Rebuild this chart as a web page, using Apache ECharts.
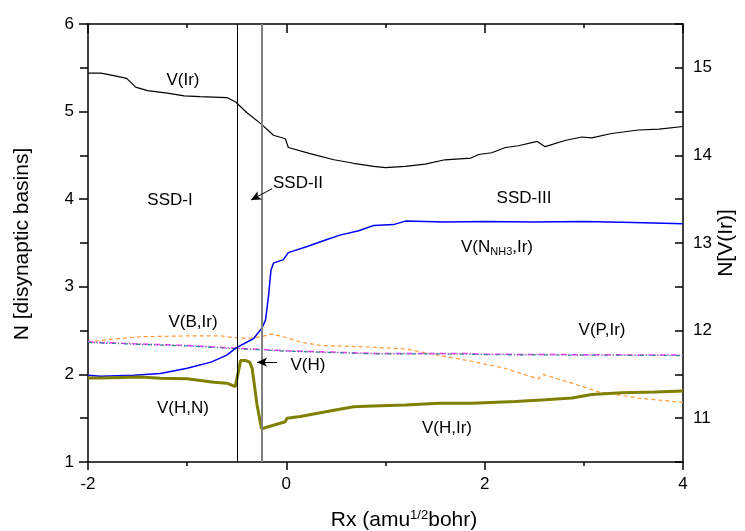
<!DOCTYPE html>
<html lang="en">
<head>
    <meta charset="UTF-8">
    <title>SSD basins</title>
    <script src="https://cdn.jsdelivr.net/npm/echarts@6/dist/echarts.min.js"></script>
</head>
<body style="margin:0">
<div id="main" style="width: 745px;height: 531px;"></div>

<script type="text/javascript">
    // 数据
    var irX = [-2, -1.87, -1.74, -1.61, -1.52, -1.40, -1.20, -1.03, -0.87, -0.60, -0.51, -0.40, -0.255, -0.13, -0.01, 0.02, 0.24, 0.48, 0.68, 0.88, 1.00, 1.20, 1.40, 1.60, 1.86, 1.94, 2.07, 2.21, 2.34, 2.53, 2.61, 2.81, 2.98, 3.08, 3.28, 3.55, 3.76, 4.0];
    var irY = [14.94, 14.94, 14.91, 14.88, 14.78, 14.74, 14.71, 14.68, 14.67, 14.66, 14.61, 14.49, 14.36, 14.23, 14.19, 14.09, 14.02, 13.95, 13.91, 13.875, 13.86, 13.875, 13.90, 13.95, 13.97, 14.01, 14.03, 14.09, 14.11, 14.16, 14.10, 14.17, 14.21, 14.20, 14.25, 14.29, 14.30, 14.33];

    var nhX = [-2, -1.87, -1.54, -1.27, -1.0, -0.76, -0.60, -0.51, -0.33, -0.245, -0.21, -0.18, -0.155, -0.13, -0.03, -0.005, 0.02, 0.21, 0.41, 0.54, 0.73, 0.88, 1.08, 1.20, 1.60, 2.0, 2.5, 3.0, 3.5, 4.0];
    var nhY = [1.99, 1.98, 1.99, 2.01, 2.07, 2.14, 2.22, 2.30, 2.41, 2.53, 2.62, 2.89, 3.19, 3.27, 3.31, 3.35, 3.39, 3.46, 3.54, 3.59, 3.64, 3.70, 3.71, 3.75, 3.74, 3.745, 3.74, 3.745, 3.735, 3.72];

    var bX = [-2, -1.77, -1.47, -0.96, -0.66, -0.53, -0.40, -0.26, -0.145, -0.03, 0.14, 0.34, 0.64, 0.87, 1.20, 1.53, 1.87, 2.20, 2.54, 2.59, 2.88, 3.15, 3.55, 4.0];
    var bY = [2.37, 2.40, 2.43, 2.44, 2.44, 2.42, 2.41, 2.43, 2.46, 2.43, 2.37, 2.33, 2.32, 2.31, 2.29, 2.22, 2.15, 2.07, 1.95, 2.00, 1.90, 1.80, 1.73, 1.68];

    var p1X = [-2, -1.54, -1.0, -0.53, 0.0, 0.87, 1.5, 1.82, 2.0, 3.0, 4.0];
    var p1Y = [2.37, 2.35, 2.33, 2.30, 2.27, 2.24, 2.24, 2.24, 2.23, 2.225, 2.22];
    var p2Y = [2.365, 2.345, 2.325, 2.295, 2.265, 2.235, 2.235, 2.23, 2.225, 2.22, 2.215];

    var hX = [-2, -1.87, -1.47, -1.27, -1.0, -0.73, -0.60, -0.515, -0.46, -0.415, -0.37, -0.345, -0.295, -0.25, -0.13, -0.01, 0.007, 0.14, 0.48, 0.68, 0.87, 1.20, 1.54, 1.87, 2.31, 2.61, 2.88, 3.08, 3.38, 3.72, 4.0];
    var hY = [1.96, 1.96, 1.97, 1.955, 1.95, 1.91, 1.90, 1.86, 2.16, 2.16, 2.14, 2.07, 1.65, 1.38, 1.42, 1.46, 1.50, 1.52, 1.59, 1.63, 1.64, 1.65, 1.67, 1.67, 1.69, 1.71, 1.73, 1.77, 1.79, 1.80, 1.81];

    var xTicks = [-2, 0, 2, 4];
    var leftTicks = [1, 2, 3, 4, 5, 6];
    var rightTicks = [11, 12, 13, 14, 15];
    var ssdBounds = [-0.5, -0.25];

    function pairs(xs, ys) {
        var list = [];
        for (var i = 0; i < xs.length; i++) {
            list.push([xs[i], ys[i]]);
        }
        return list;
    }

    var font = 'Liberation Sans, Arial, sans-serif';
    var black = {color: '#000', width: 1.5};
    var myChart = echarts.init(document.getElementById('main'));

    // 文字标注
    function note(text, x, y) {
        return {type: 'text', x: x, y: y, style: {text: text, fill: '#000', font: '17px ' + font, align: 'center', verticalAlign: 'middle'}};
    }

    var option = {
        animation: false,
        grid: {left: 88, right: 62, top: 24, bottom: 69},
        xAxis: [{
            type: 'value', min: -2, max: 4, interval: 2,
            axisLine: {onZero: false, lineStyle: black},
            axisTick: {length: 8, lineStyle: black},
            minorTick: {show: true, splitNumber: 2, length: 4, lineStyle: black},
            axisLabel: {color: '#000', fontSize: 17, fontFamily: font, margin: 14,
                formatter: function (v) { return xTicks.indexOf(v) >= 0 ? String(v) : ''; }},
            splitLine: {show: false}
        }, {
            type: 'value', min: -2, max: 4, interval: 2, position: 'top',
            axisLine: {onZero: false, lineStyle: black},
            axisTick: {inside: true, length: 9, lineStyle: black},
            minorTick: {show: true, splitNumber: 2, length: 4, lineStyle: black},
            axisLabel: {show: false},
            splitLine: {show: false}
        }],
        yAxis: [{
            type: 'value', min: 1, max: 6, interval: 1,
            axisLine: {show: true, onZero: false, lineStyle: black},
            axisTick: {show: true, length: 9, lineStyle: black},
            minorTick: {show: true, splitNumber: 2, length: 8, lineStyle: black},
            axisLabel: {color: '#000', fontSize: 17, fontFamily: font, margin: 14,
                formatter: function (v) { return leftTicks.indexOf(v) >= 0 ? String(v) : ''; }},
            splitLine: {show: false}
        }, {
            type: 'value', min: 10.5, max: 15.5, interval: 0.5, position: 'right',
            axisLine: {show: true, onZero: false, lineStyle: black},
            axisTick: {show: true, inside: true, length: 8, lineStyle: black},
            axisLabel: {color: '#000', fontSize: 17, fontFamily: font, margin: 10,
                formatter: function (v) { return rightTicks.indexOf(v) >= 0 ? String(v) : ''; }},
            splitLine: {show: false}
        }],
        graphic: [
            {type: 'text', x: 22, y: 244, rotation: Math.PI / 2, style: {text: 'N [disynaptic basins]', fill: '#000', font: '21px ' + font, align: 'center', verticalAlign: 'middle'}},
            {type: 'text', x: 726, y: 243, rotation: Math.PI / 2, style: {text: 'N[V(Ir)]', fill: '#000', font: '21px ' + font, align: 'center', verticalAlign: 'middle'}},
            {type: 'text', x: 404, y: 520, style: {
                text: '{n|Rx (amu}{s|1/2}{n|bohr)}', align: 'center', verticalAlign: 'middle',
                rich: {n: {fontSize: 21, fontFamily: font, fill: '#000'}, s: {fontSize: 13, fontFamily: font, fill: '#000', padding: [0, 0, 10, 0]}}
            }},
            note('V(Ir)', 183, 80),
            note('SSD-I', 170, 200),
            note('SSD-II', 298, 183),
            note('SSD-III', 524, 198),
            {type: 'text', x: 497, y: 247, style: {
                text: '{n|V(N}{s|NH3}{n|,Ir)}', align: 'center', verticalAlign: 'middle',
                rich: {n: {fontSize: 17, fontFamily: font, fill: '#000'}, s: {fontSize: 11, fontFamily: font, fill: '#000', padding: [10, 0, 0, 0]}}
            }},
            note('V(B,Ir)', 193, 322),
            note('V(P,Ir)', 602, 330),
            note('V(H)', 308, 365),
            note('V(H,N)', 183, 408),
            note('V(H,Ir)', 447, 428)
        ],
        series: [
            { // V(B,Ir) 橙色虚线
                name: 'V(B,Ir)', type: 'line', data: pairs(bX, bY), symbol: 'none',
                lineStyle: {color: '#ff9933', width: 1.2, type: [4, 3]}
            },
            { // V(P,Ir) 两条重叠的点划线
                name: 'V(P,Ir)a', type: 'line', data: pairs(p1X, p1Y), symbol: 'none',
                lineStyle: {color: '#ff33ff', width: 1.5, type: [6, 2, 1, 2]}
            },
            {
                name: 'V(P,Ir)b', type: 'line', data: pairs(p1X, p2Y), symbol: 'none',
                lineStyle: {color: '#2a8a8a', width: 1.2, type: [4, 2, 1, 2, 1, 2]}
            },
            { // V(N_NH3,Ir)
                name: 'V(N,Ir)', type: 'line', data: pairs(nhX, nhY), symbol: 'none',
                lineStyle: {color: '#0000ff', width: 1.5}
            },
            { // V(H,N) / V(H) / V(H,Ir)
                name: 'V(H)', type: 'line', data: pairs(hX, hY), symbol: 'none',
                lineStyle: {color: '#808000', width: 3}
            },
            { // V(Ir) 右轴
                name: 'V(Ir)', type: 'line', yAxisIndex: 1, data: pairs(irX, irY), symbol: 'none',
                lineStyle: {color: '#000', width: 1.2}
            },
            { // 分区竖线与箭头
                name: 'marks', type: 'line', data: [],
                markLine: {
                    silent: true, symbol: ['none', 'none'], label: {show: false},
                    data: [
                        {xAxis: ssdBounds[0], lineStyle: {color: '#000', width: 1, type: 'solid'}},
                        {xAxis: ssdBounds[1], lineStyle: {color: '#808080', width: 2, type: 'solid'}},
                        [{coord: [-0.144, 4.12], symbol: 'none'}, {coord: [-0.356, 3.99], symbol: 'arrow', symbolSize: [7, 10], lineStyle: {color: '#000', width: 1, type: 'solid'}}],
                        [{coord: [-0.094, 2.14], symbol: 'none'}, {coord: [-0.295, 2.14], symbol: 'arrow', symbolSize: [7, 10], lineStyle: {color: '#000', width: 1, type: 'solid'}}]
                    ]
                }
            }
        ]
    };

    myChart.setOption(option);
</script>
</body>
</html>
